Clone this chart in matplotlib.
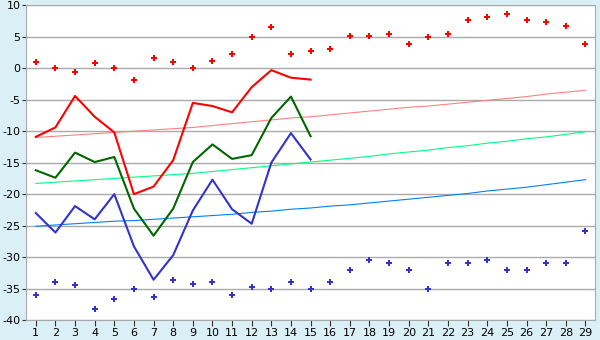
import matplotlib.pyplot as plt

plt.rcParams['axes.unicode_minus'] = False

days = list(range(1, 30))
days15 = list(range(1, 16))

# observed daily values (days 1-15)
t_max = [-10.9, -9.4, -4.4, -7.7, -10.2, -20.0, -18.8, -14.6, -5.5, -6.0,
         -7.0, -3.0, -0.3, -1.5, -1.8]
t_mean = [-16.2, -17.4, -13.4, -14.9, -14.1, -22.3, -26.6, -22.3, -14.9, -12.1,
          -14.4, -13.8, -7.9, -4.5, -10.8]
t_min = [-23.0, -26.1, -21.9, -24.0, -20.0, -28.3, -33.6, -29.7, -22.6, -17.7,
         -22.4, -24.7, -15.0, -10.3, -14.5]

# normals
norm_max = [-11.0, -10.8, -10.6, -10.4, -10.2, -10.0, -9.8, -9.6, -9.4, -9.1,
            -8.8, -8.5, -8.2, -7.9, -7.7, -7.4, -7.1, -6.8, -6.5, -6.2,
            -6.0, -5.7, -5.4, -5.1, -4.8, -4.5, -4.1, -3.8, -3.5]
norm_mean = [-18.3, -18.1, -17.9, -17.7, -17.5, -17.3, -17.1, -16.9, -16.7, -16.4,
             -16.1, -15.8, -15.5, -15.2, -14.9, -14.6, -14.3, -14.0, -13.6, -13.3,
             -13.0, -12.6, -12.3, -11.9, -11.6, -11.2, -10.9, -10.5, -10.1]
norm_min = [-25.1, -24.9, -24.7, -24.5, -24.3, -24.2, -24.0, -23.8, -23.6, -23.4,
            -23.2, -22.9, -22.7, -22.4, -22.2, -21.9, -21.7, -21.4, -21.1, -20.8,
            -20.5, -20.2, -19.9, -19.5, -19.2, -18.9, -18.5, -18.1, -17.7]

# records
rec_max = [1.0, 0.0, -0.6, 0.9, 0.0, -1.8, 1.7, 1.0, 0.0, 1.2,
           2.2, 4.9, 6.5, 2.2, 2.8, 3.0, 5.2, 5.2, 5.5, 3.8,
           4.9, 5.5, 7.6, 8.1, 8.6, 7.6, 7.3, 6.7, 3.9]
rec_min = [-36.0, -34.0, -34.4, -38.3, -36.7, -35.0, -36.4, -33.6, -34.2, -33.9,
           -36.0, -34.8, -35.0, -34.0, -35.0, -34.0, -32.0, -30.5, -31.0, -32.1,
           -35.0, -31.0, -31.0, -30.5, -32.0, -32.1, -31.0, -31.0, -25.9]

fig = plt.figure(figsize=(6, 3.4), dpi=100, facecolor='#daf0f6')
ax = fig.add_axes([0.0433, 0.0588, 0.9487, 0.9255])
ax.set_facecolor('white')

ax.plot(days, norm_max, color='#ff8080', lw=0.8)
ax.plot(days, norm_mean, color='#00ff80', lw=0.8)
ax.plot(days, norm_min, color='#0080ff', lw=0.8)

ax.plot(days15, t_max, color='#ff0000', lw=1.5)
ax.plot(days15, t_mean, color='#006600', lw=1.5)
ax.plot(days15, t_min, color='#3333cc', lw=1.5)

ax.plot(days, rec_max, 'P', color='#ff0000', ms=4, mew=0)
ax.plot(days, rec_min, 'P', color='#3333cc', ms=4, mew=0)

ax.set_xlim(0.5, 29.5)
ax.set_ylim(-40, 10)
ax.set_xticks(days)
ax.set_yticks(range(-40, 11, 5))
ax.yaxis.grid(True, color='#aaaaaa', lw=1)
ax.set_axisbelow(True)
ax.tick_params(axis='x', length=4, color='#333333', labelsize=8, pad=2)
ax.tick_params(axis='y', length=3, color='#333333', labelsize=8, pad=1)
for s in ax.spines.values():
    s.set_color('#aaaaaa')

fig.savefig('out.png', dpi=100, facecolor=fig.get_facecolor())
